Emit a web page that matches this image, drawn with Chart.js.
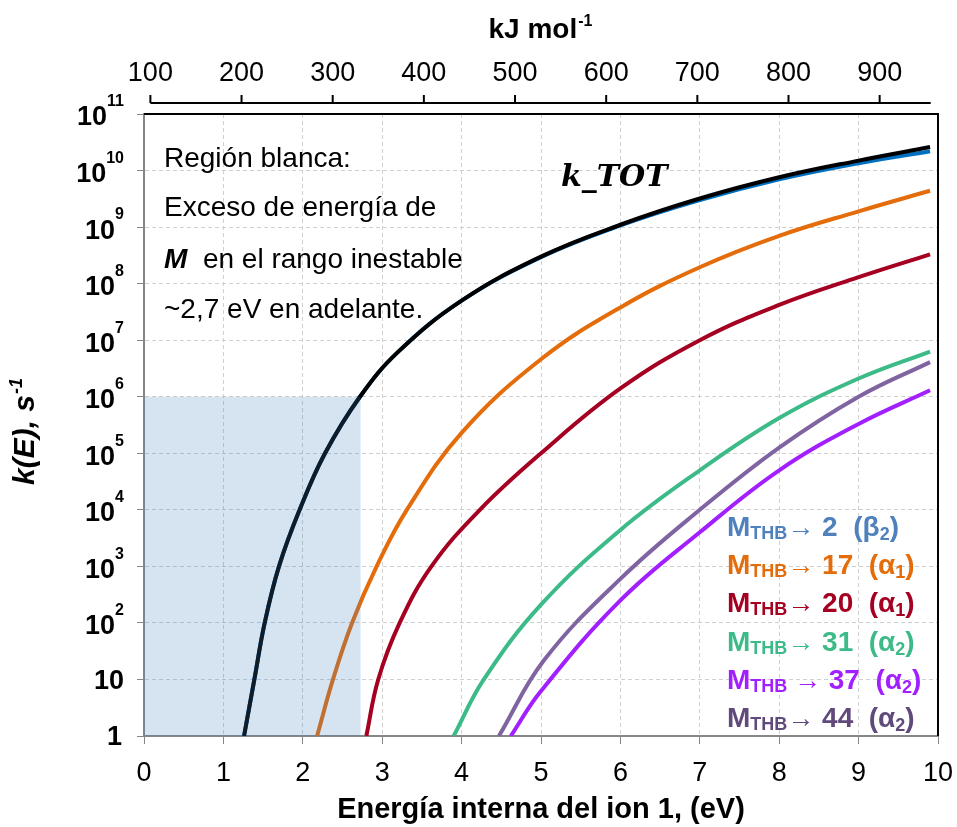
<!DOCTYPE html>
<html>
<head>
<meta charset="utf-8">
<script src="https://cdn.jsdelivr.net/npm/chart.js@4.4.0/dist/chart.umd.min.js"></script>
<style>
html,body{margin:0;padding:0;background:#fff;}
</style>
</head>
<body>
<canvas id="chart" width="957" height="827"></canvas>
<script>
// k(E), energia en eV
const eTot = [1.26, 1.39, 1.52, 1.70, 1.96, 2.28, 2.72, 3.2, 4.0, 5.0, 6.0, 7.0, 8.0, 9.0, 9.9];
const kTot = [1, 10, 100, 1e3, 1e4, 1e5, 1e6, 6.2e6, 5.0e7, 3.0e8, 1.1e9, 3.2e9, 7.6e9, 1.5e10, 2.6e10];

const e2 = [1.26, 1.39, 1.52, 1.70, 1.96, 2.28, 2.72, 3.2, 4.0, 5.0, 6.0, 7.0, 8.0, 9.0, 9.9];
const k2 = [1, 10, 100, 1e3, 1e4, 1e5, 1e6, 6.2e6, 5.0e7, 2.95e8, 1.07e9, 3.0e9, 7.0e9, 1.35e10, 2.2e10];

const e17 = [2.18, 2.38, 2.62, 2.93, 3.31, 4.0, 5.0, 6.0, 7.0, 8.0, 9.0, 9.9];
const k17 = [1, 10, 100, 1e3, 1e4, 2.3e5, 4.6e6, 3.8e7, 1.95e8, 7.0e8, 1.9e9, 4.4e9];

const e20 = [2.80, 2.95, 3.22, 3.62, 4.23, 5.0, 6.0, 7.0, 8.0, 9.0, 9.9];
const k20 = [1, 10, 100, 1e3, 1e4, 1e5, 1.4e6, 1.0e7, 4.2e7, 1.3e8, 3.3e8];

const e31 = [3.90, 4.28, 5.0, 6.0, 7.0, 8.0, 9.0, 9.9];
const k31 = [1, 10, 210, 4.4e3, 5.0e4, 4.2e5, 2.1e6, 6.3e6];

const e37 = [4.62, 4.99, 6.0, 7.0, 8.0, 9.0, 9.9];
const k37 = [1, 6, 250, 4.0e3, 5.0e4, 3.3e5, 1.3e6];

const e44 = [4.47, 5.04, 6.0, 7.0, 8.0, 9.0, 9.9];
const k44 = [1, 22, 600, 1.0e4, 1.26e5, 1.0e6, 4.1e6];

// zona sombreada (region inestable)
const shadeE = [0, 2.73];
const shadeK = [1e6, 1e6];

const yTicks = [1, 10, 1e2, 1e3, 1e4, 1e5, 1e6, 1e7, 1e8, 1e9, 1e10, 1e11];
const kjMin = 93, kjMax = 964, kjLineEnd = 956;

const legendNums = ['2', '17', '20', '31', '37', '44'];
const legendGreek = ['β', 'α', 'α', 'α', 'α', 'α'];
const legendSub = ['2', '1', '1', '2', '2', '2'];
const legendColors = ['#4f81bd', '#e46c0a', '#a50021', '#3cbb88', '#a21fff', '#604a7b'];

const textLines = ['Región blanca:', 'Exceso de energía de', '  en el rango inestable', '~2,7 eV en adelante.'];

const SANS = '"Liberation Sans", Arial, sans-serif';

function pts(es, ks) {
  return es.map((e, i) => ({x: e, y: ks[i]}));
}

function curve(es, ks, color, order) {
  return {
    data: pts(es, ks),
    borderColor: color,
    borderWidth: 4,
    pointRadius: 0,
    fill: false,
    tension: 0.4,
    order: order,
    xAxisID: 'x',
    yAxisID: 'y'
  };
}

const deco = {
  id: 'deco',
  afterDraw(chart) {
    const ctx = chart.ctx;
    const a = chart.chartArea;
    const ys = chart.scales.y;
    const top = chart.scales.x2;
    ctx.save();

    // marco superior y derecho
    ctx.strokeStyle = '#000';
    ctx.lineWidth = 2;
    ctx.beginPath();
    ctx.moveTo(a.left, a.top);
    ctx.lineTo(a.right, a.top);
    ctx.lineTo(a.right, a.bottom);
    ctx.stroke();

    // eje kJ/mol
    const ly = 103;
    ctx.beginPath();
    ctx.moveTo(top.getPixelForValue(100), ly);
    ctx.lineTo(top.getPixelForValue(kjLineEnd), ly);
    top.ticks.forEach(t => {
      const px = top.getPixelForValue(t.value);
      ctx.moveTo(px, ly);
      ctx.lineTo(px, ly - 8);
    });
    ctx.stroke();

    ctx.fillStyle = '#000';
    ctx.textBaseline = 'alphabetic';

    // titulo superior
    const t1 = 'kJ mol';
    ctx.font = 'bold 28px ' + SANS;
    const w1 = ctx.measureText(t1).width;
    ctx.font = 'bold 16px ' + SANS;
    const w2 = ctx.measureText('-1').width;
    let tx = 540 - (w1 + w2) / 2;
    ctx.font = 'bold 28px ' + SANS;
    ctx.textAlign = 'left';
    ctx.fillText(t1, tx, 38);
    ctx.font = 'bold 16px ' + SANS;
    ctx.fillText('-1', tx + w1 + 1, 26);

    // etiquetas eje y
    ys.ticks.forEach(t => {
      const y = ys.getPixelForValue(t.value);
      const p = Math.round(Math.log10(t.value));
      ctx.textAlign = 'right';
      ctx.textBaseline = 'middle';
      if (p < 2) {
        ctx.font = 'bold 27px ' + SANS;
        ctx.fillText(p === 0 ? '1' : '10', p === 0 ? 122 : 124, y + 2);
      } else {
        ctx.font = 'bold 16px ' + SANS;
        const we = ctx.measureText(String(p)).width;
        ctx.fillText(String(p), 124, y - 12);
        ctx.font = 'bold 27px ' + SANS;
        ctx.fillText('10', 124 - we, y + 4);
      }
    });

    // titulo eje y
    ctx.save();
    ctx.translate(34, 432);
    ctx.rotate(-Math.PI / 2);
    ctx.textBaseline = 'alphabetic';
    ctx.textAlign = 'left';
    ctx.font = 'italic bold 30px ' + SANS;
    const yt = 'k(E), s';
    const wy = ctx.measureText(yt).width;
    ctx.font = 'italic bold 18px ' + SANS;
    const wy2 = ctx.measureText('-1').width;
    const sx = -(wy + wy2) / 2;
    ctx.font = 'italic bold 30px ' + SANS;
    ctx.fillText(yt, sx, 0);
    ctx.font = 'italic bold 18px ' + SANS;
    ctx.fillText('-1', sx + wy + 1, -12);
    ctx.restore();

    // texto de la region blanca
    ctx.textAlign = 'left';
    ctx.textBaseline = 'alphabetic';
    const base = [167, 216, 268, 318];
    textLines.forEach((s, i) => {
      let x = 164;
      if (i === 2) {
        ctx.font = 'italic bold 28px ' + SANS;
        ctx.fillText('M', x, base[i]);
        x += ctx.measureText('M').width;
      }
      ctx.font = '28px ' + SANS;
      ctx.fillText(s, x, base[i]);
    });

    // k_TOT
    ctx.font = 'italic bold 30px "DejaVu Serif", serif';
    ctx.fillText('k_TOT', 561, 186);

    // leyenda de canales
    legendNums.forEach((n, i) => {
      const y = 536 + i * 38.2;
      let x = 727;
      ctx.fillStyle = legendColors[i];
      const seg = (txt, font, dy) => {
        ctx.font = font;
        ctx.fillText(txt, x, y + dy);
        x += ctx.measureText(txt).width;
      };
      seg('M', 'bold 28px ' + SANS, 0);
      seg('THB', 'bold 18px ' + SANS, 3);
      if (i === 4) seg(' ', '24px ' + SANS, 0);
      seg('→', '27px ' + SANS, 0);
      seg(' ' + n + '  (' + legendGreek[i], 'bold 28px ' + SANS, 0);
      seg(legendSub[i], 'bold 18px ' + SANS, 4);
      seg(')', 'bold 28px ' + SANS, 0);
    });

    ctx.restore();
  }
};

new Chart(document.getElementById('chart'), {
  type: 'line',
  data: {
    datasets: [
      {
        data: pts(shadeE, shadeK),
        fill: 'start',
        backgroundColor: 'rgba(68,128,190,0.22)',
        borderWidth: 0,
        pointRadius: 0,
        order: -1,
        xAxisID: 'x',
        yAxisID: 'y'
      },
      curve(eTot, kTot, '#000000', 0),
      curve(e2, k2, '#0070c0', 1),
      curve(e17, k17, '#e46c0a', 2),
      curve(e20, k20, '#a50021', 2),
      curve(e31, k31, '#3cbb88', 2),
      curve(e37, k37, '#a21fff', 2),
      curve(e44, k44, '#8064a2', 2)
    ]
  },
  options: {
    responsive: false,
    animation: false,
    layout: {padding: {left: 0, right: 19, top: 0, bottom: 0}},
    plugins: {legend: {display: false}, tooltip: {enabled: false}},
    scales: {
      x: {
        type: 'linear', position: 'bottom', min: 0, max: 10,
        ticks: {stepSize: 1, color: '#000', font: {family: SANS, size: 27}, padding: 13},
        grid: {color: '#d0d0d0', tickColor: '#868686', tickLength: 8, lineWidth: 1},
        border: {color: '#868686', width: 2, dash: [4, 3]},
        title: {
          display: true, text: 'Energía interna del ion 1, (eV)', color: '#000',
          font: {family: SANS, size: 29, weight: 'bold'}, padding: {top: 0, bottom: 0}
        },
        afterFit(s) { s.height = 91; s.paddingLeft = 0; s.paddingRight = 0; }
      },
      x2: {
        type: 'linear', position: 'top', min: kjMin, max: kjMax,
        ticks: {stepSize: 100, includeBounds: false, color: '#000', font: {family: SANS, size: 27}, padding: 16},
        grid: {display: false},
        border: {display: false},
        afterFit(s) { s.height = 114; s.paddingLeft = 0; s.paddingRight = 0; }
      },
      y: {
        type: 'logarithmic', position: 'left', min: 1, max: 1e11,
        ticks: {display: false},
        afterBuildTicks(s) { s.ticks = yTicks.map(v => ({value: v})); },
        grid: {color: '#d0d0d0', tickColor: '#868686', tickLength: 7, lineWidth: 1},
        border: {color: '#868686', width: 2, dash: [4, 3]},
        afterFit(s) { s.width = 144; }
      }
    }
  },
  plugins: [deco]
});
</script>
</body>
</html>
